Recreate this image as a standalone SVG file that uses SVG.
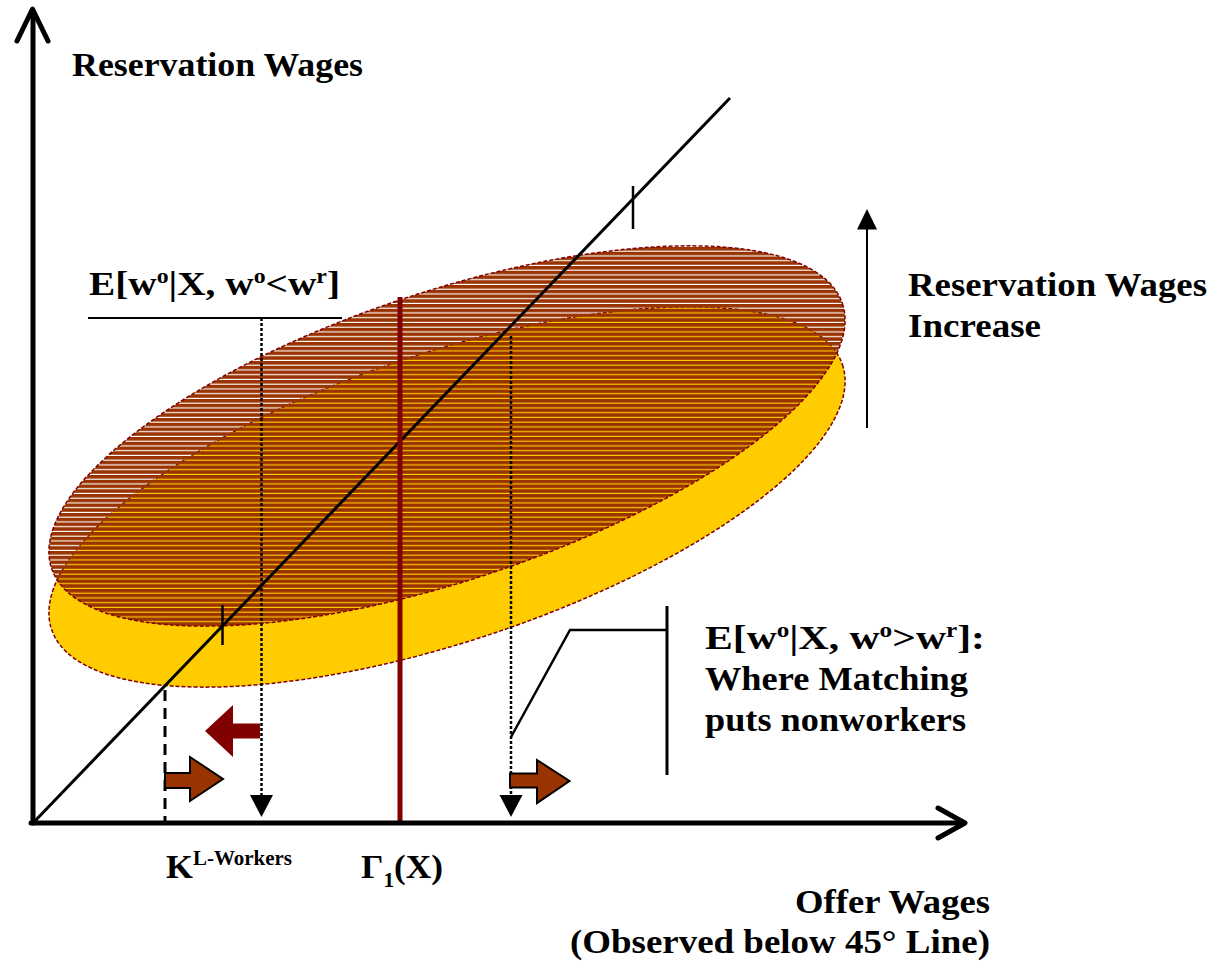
<svg xmlns="http://www.w3.org/2000/svg" width="1213" height="967" viewBox="0 0 1213 967">
<style>
.t{font-family:"Liberation Serif","Times New Roman",serif;font-weight:bold;font-size:33px;fill:#000}
.sup{font-size:20px}
.ax{stroke:#000;stroke-width:5;fill:none;stroke-linecap:round;stroke-linejoin:round}
.dot{stroke:#000;stroke-width:2.5;stroke-dasharray:3 2;fill:none}
.thin{stroke:#000;stroke-width:2.5;fill:none}
.outl{fill:none;stroke:#800000;stroke-width:1.5;stroke-dasharray:4 2}
</style>
<defs>
<pattern id="stripes" patternUnits="userSpaceOnUse" x="0" y="0" width="10" height="4.75">
<rect x="0" y="0" width="10" height="3.6" fill="#993300"/>
</pattern>
<clipPath id="upClip"><ellipse cx="447" cy="436" rx="417" ry="144" transform="rotate(-18.5 447 436)"/></clipPath>
</defs>
<rect width="1213" height="967" fill="#fff"/>

<g id="ellipse-lower">
<ellipse cx="447" cy="497" rx="417" ry="144" transform="rotate(-18.5 447 497)" class="outl" style="fill:#FFCC00"/>
</g>
<g id="ellipse-upper">
<rect x="0" y="200" width="900" height="480" fill="url(#stripes)" clip-path="url(#upClip)"/>
<ellipse cx="447" cy="436" rx="417" ry="144" transform="rotate(-18.5 447 436)" class="outl"/>
</g>

<g id="connectors">
<line x1="33" y1="823" x2="730" y2="98" class="thin" style="stroke-width:3"/>
<line x1="633" y1="186" x2="633" y2="229" class="thin"/>
<line x1="222.5" y1="605" x2="222.5" y2="645" class="thin"/>
<line x1="400" y1="297" x2="400" y2="823" stroke="#800000" stroke-width="5"/>
<line x1="261.5" y1="318" x2="261.5" y2="798" class="dot"/>
<path d="M250,795 L273,795 L261.5,817 Z" fill="#000"/>
<line x1="511" y1="336" x2="511" y2="798" class="dot"/>
<path d="M499.5,795 L522.5,795 L511,817 Z" fill="#000"/>
<line x1="165" y1="690" x2="165" y2="823" stroke="#000" stroke-width="3" stroke-dasharray="11 7"/>
<line x1="88" y1="318" x2="342" y2="318" class="thin" style="stroke-width:2"/>
<polyline points="511,737 570,630 667,630" class="thin"/>
<line x1="667" y1="606" x2="667" y2="775" class="thin" style="stroke-width:3"/>
<line x1="867" y1="428" x2="867" y2="226" stroke="#000" stroke-width="2"/>
<path d="M857,229.5 L877,229.5 L867,209 Z" fill="#000"/>
<path d="M165,773 L190,773 L190,757 L223,779 L190,801 L190,788 L165,788 Z" fill="#993300" stroke="#000" stroke-width="2"/>
<path d="M510,773.5 L537,773.5 L537,760 L569.5,781 L537,803 L537,787.5 L510,787.5 Z" fill="#993300" stroke="#000" stroke-width="2"/>
<path d="M260,723.5 L233,723.5 L233,705 L205,731 L233,757 L233,738.5 L260,738.5 Z" fill="#800000"/>
<line x1="33" y1="823" x2="33" y2="12" class="ax"/>
<polyline points="17,41 32.5,9 48,41" class="ax"/>
<line x1="31" y1="823" x2="962" y2="823" class="ax"/>
<polyline points="938,808 965,823 938,838" class="ax"/>
</g>

<g id="label-ry">
<text class="t" x="72" y="76" textLength="291" lengthAdjust="spacingAndGlyphs">Reservation Wages</text>
</g>
<g id="label-e-lt">
<text class="t" x="89" y="295" textLength="251" lengthAdjust="spacingAndGlyphs">E[w<tspan class="sup" dy="-12">o</tspan><tspan dy="12">|X, w</tspan><tspan class="sup" dy="-12">o</tspan><tspan dy="12">&lt;w</tspan><tspan class="sup" dy="-12">r</tspan><tspan dy="12">]</tspan></text>
</g>
<g id="label-increase">
<text class="t" x="908" y="296" textLength="299" lengthAdjust="spacingAndGlyphs">Reservation Wages</text>
<text class="t" x="908" y="337" textLength="133" lengthAdjust="spacingAndGlyphs">Increase</text>
</g>
<g id="label-e-gt">
<text class="t" x="705" y="649" textLength="280" lengthAdjust="spacingAndGlyphs">E[w<tspan class="sup" dy="-12">o</tspan><tspan dy="12">|X, w</tspan><tspan class="sup" dy="-12">o</tspan><tspan dy="12">&gt;w</tspan><tspan class="sup" dy="-12">r</tspan><tspan dy="12">]:</tspan></text>
<text class="t" x="705" y="690" textLength="263" lengthAdjust="spacingAndGlyphs">Where Matching</text>
<text class="t" x="705" y="731" textLength="261" lengthAdjust="spacingAndGlyphs">puts nonworkers</text>
</g>
<g id="label-k">
<text class="t" x="166" y="878" textLength="126" lengthAdjust="spacingAndGlyphs">K<tspan class="sup" dy="-13">L-Workers</tspan></text>
</g>
<g id="label-gamma">
<text class="t" x="361" y="878" textLength="82" lengthAdjust="spacingAndGlyphs">Γ<tspan class="sup" dy="9">1</tspan><tspan dy="-9">(X)</tspan></text>
</g>
<g id="label-offer">
<text class="t" x="990" y="913" text-anchor="end" textLength="195" lengthAdjust="spacingAndGlyphs">Offer Wages</text>
<text class="t" x="990" y="953" text-anchor="end" textLength="420" lengthAdjust="spacingAndGlyphs">(Observed below 45° Line)</text>
</g>
</svg>
